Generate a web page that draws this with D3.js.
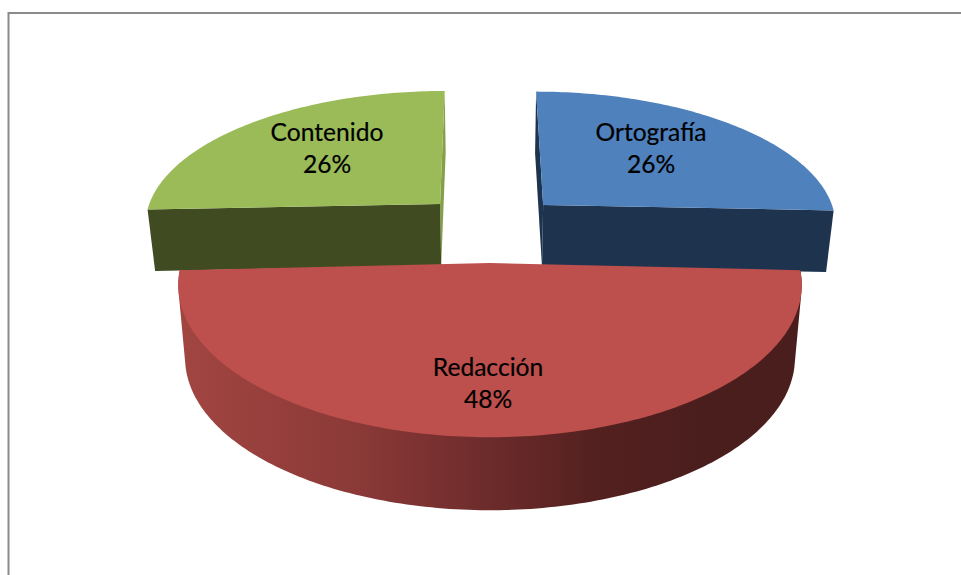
<!DOCTYPE html>
<html><head><meta charset="utf-8">
<style>html,body{margin:0;padding:0;background:#fff;overflow:hidden}svg{display:block}</style>
<script src="https://cdn.jsdelivr.net/npm/d3@7"></script>
</head><body><svg id="c" width="961" height="575"></svg>
<script>
const categories = ["Ortografía", "Redacción", "Contenido"];
const values = [26, 48, 26];
const topColors = ["#4f81bd", "#bd4f4c", "#9bbb59"];
const wallColors = ["#1d334e", null, "#404b21"];
const sliverColors = ["#1d334e", null, "#84a04a"];
const redWallStops = ["#a14541", "#8c3a38", "#6f2c2c", "#52201f", "#4b1e1e"];
const redWallXs = [184, 350, 480, 600, 700];
const explodeU = [0.184, 0, -0.173];
const explodeV = [-0.425, 0, -0.432];
const arcShiftU = [0, 0, -0.008];
const arcLiftV = [-0.02, -0.015, -0.02];
const ryScale = [0.98, 1, 0.98];
const depths = [61.5, 73, 61.5];

const layout = {cx: 490, cy: 263, rx: 308.5, ry: 149, persp: 0.16, shrink: 0.978};
const labelPos = [[651, 141], [488, 376], [327, 141]];
const lineGap = 32;

const svg = d3.select("#c");
const pct = d3.format(".0%");
const total = d3.sum(values);
const arcs = d3.pie().sort(null)(values);
const x3 = d3.scaleLinear().domain([-1, 1]).range([layout.cx - layout.rx, layout.cx + layout.rx]);
const y3 = d3.scaleLinear().domain([-1, 1]).range([layout.cy - layout.ry, layout.cy + layout.ry]);
const redScale = d3.scaleLinear().domain(redWallXs).range(redWallStops);

function project(u, v, k = 1) {
  const s = 1 / (1 - layout.persp * v);
  return [x3(u * s), layout.cy + (y3(v * s) - layout.cy) * k];
}
function drop(p, d) {
  return [layout.cx + (p[0] - layout.cx) * layout.shrink, p[1] + d];
}
function arcPts(a, i) {
  const n = Math.ceil((a.endAngle - a.startAngle) * 180 / Math.PI);
  return d3.range(n + 1).map(k => {
    const t = a.startAngle + (a.endAngle - a.startAngle) * k / n;
    return project(explodeU[i] + arcShiftU[i] + Math.sin(t), explodeV[i] + arcLiftV[i] - Math.cos(t), ryScale[i]);
  });
}
const line = d3.line();
const close = pts => line(pts) + "Z";

// frame
svg.append("path").attr("d", "M8.5,575V13H961").attr("fill", "none").attr("stroke", "#8a8a8a").attr("stroke-width", 2);

const grad = svg.append("defs").append("linearGradient").attr("id", "redWall")
  .attr("gradientUnits", "userSpaceOnUse")
  .attr("x1", redWallXs[0]).attr("x2", redWallXs[redWallXs.length - 1]).attr("y1", 0).attr("y2", 0);
const offset = d3.scaleLinear().domain(d3.extent(redWallXs)).range([0, 1]);
redWallXs.forEach(x => grad.append("stop").attr("offset", offset(x)).attr("stop-color", redScale(x)));

function drawExploded(i) {
  const a = arcs[i], pts = arcPts(a, i), apex = project(explodeU[i], explodeV[i], ryScale[i]);
  const d = depths[i];
  const first = pts[0], last = pts[pts.length - 1];
  const front = i === 0 ? last : first;
  const far = i === 0 ? first : last;
  svg.append("path").attr("d", close([apex, far, drop(far, d), drop(apex, d)])).attr("fill", sliverColors[i]);
  svg.append("path").attr("d", close([apex, front, drop(front, d), drop(apex, d)])).attr("fill", wallColors[i]);
  svg.append("path").attr("d", close([apex, ...pts])).attr("fill", topColors[i]);
}
drawExploded(0);
drawExploded(2);

{
  const i = 1, a = arcs[i], pts = arcPts(a, i), apex = project(explodeU[i], explodeV[i]);
  const hull = d3.polygonHull([...pts, ...pts.map(p => drop(p, depths[i]))]);
  svg.append("path").attr("d", close(hull)).attr("fill", "url(#redWall)");
  svg.append("path").attr("d", close([apex, ...pts])).attr("fill", topColors[i]);
}

categories.forEach((c, i) => {
  const t = svg.append("text").attr("text-anchor", "middle")
    .attr("font-family", "Lato, sans-serif").attr("font-size", 24.6).attr("fill", "#000")
    .attr("stroke", "#000").attr("stroke-width", 0.2);
  t.append("tspan").attr("x", labelPos[i][0]).attr("y", labelPos[i][1]).text(c);
  t.append("tspan").attr("x", labelPos[i][0]).attr("y", labelPos[i][1] + lineGap).text(pct(values[i] / total));
});
</script></body></html>
